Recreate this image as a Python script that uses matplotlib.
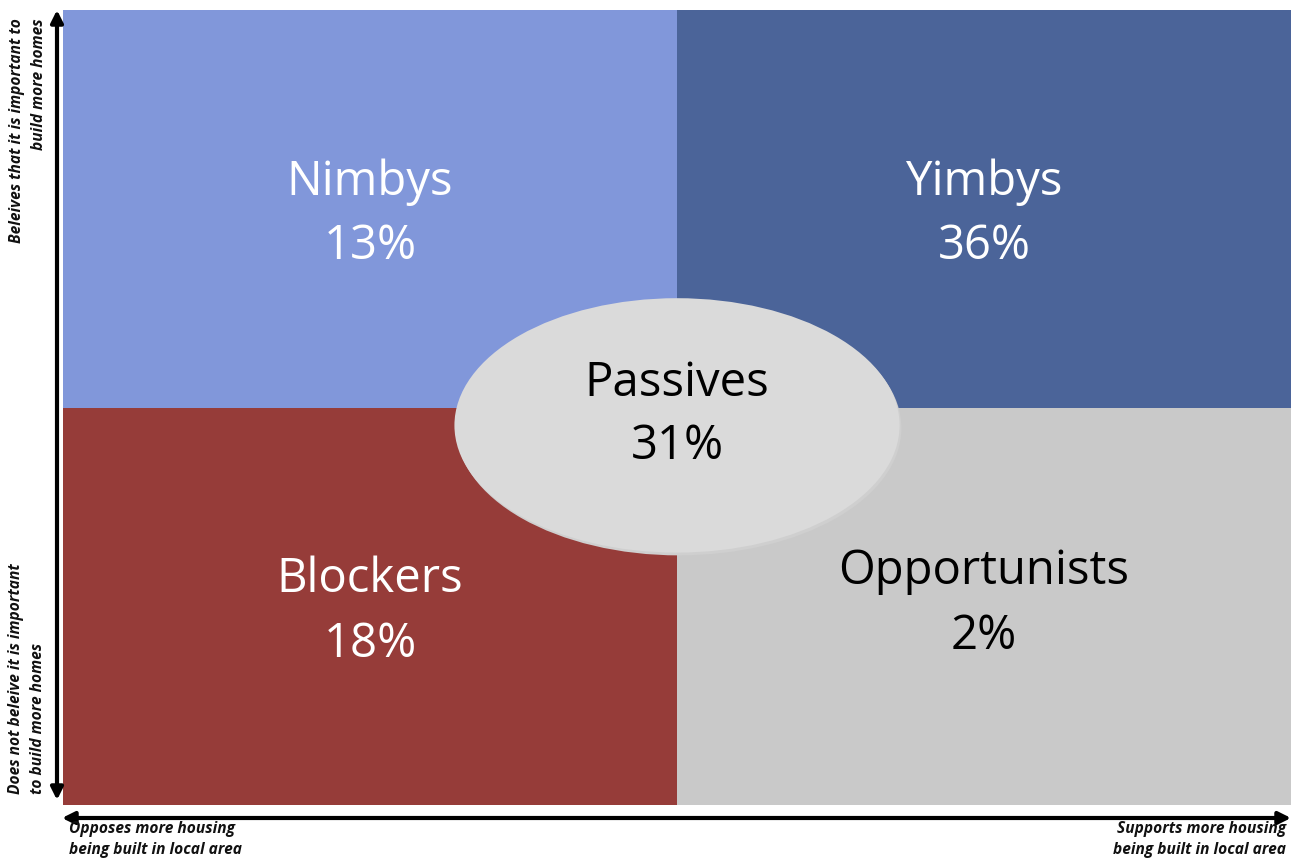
import matplotlib.pyplot as plt
from matplotlib.patches import Rectangle, Ellipse

plt.rcParams['font.family'] = ['Open Sans', 'DejaVu Sans']

# ==========================================
# data
# ==========================================
segments = ['Nimbys', 'Yimbys', 'Blockers', 'Opportunists']
shares = [13, 36, 18, 2]
seg_col = [0, 1, 0, 1]      # 0 = opposes, 1 = supports
seg_row = [1, 1, 0, 0]      # 1 = believes important, 0 = does not
seg_colors = ['#8197DA', '#4B6499', '#963C39', '#C9C9C9']
seg_text = ['white', 'white', 'white', 'black']

centre_name = 'Passives'
centre_share = 31

y_top_label = 'Beleives that it is important to\nbuild more homes'
y_bottom_label = 'Does not beleive it is important\nto build more homes'
x_left_label = 'Opposes more housing\nbeing built in local area'
x_right_label = 'Supports more housing\nbeing built in local area'

# ==========================================
# figure
# ==========================================
W, H = 1291, 861
fig = plt.figure(figsize=(W / 100, H / 100), dpi=100)

# quadrant area
ax = fig.add_axes([63 / W, (H - 805) / H, (1291 - 63) / W, (805 - 10) / H])
ax.set_xlim(0, 2)
ax.set_ylim(0, 2)
ax.axis('off')

for name, share, c, r, col, tc in zip(segments, shares, seg_col, seg_row,
                                      seg_colors, seg_text):
    ax.add_patch(Rectangle((c, r), 1, 1, facecolor=col, edgecolor='none'))
    dy = 0.02 if name == 'Opportunists' else 0.0
    ax.text(c + 0.5, r + 0.567 + dy, name, ha='center', va='center',
            fontsize=34, color=tc)
    ax.text(c + 0.5, r + 0.405 + dy, f'{share}%', ha='center', va='center',
            fontsize=34, color=tc)

# passives ellipse (faint shadow underneath)
ax.add_patch(Ellipse((1.003, 0.948), 0.725, 0.64, facecolor='#CFCFCF',
                     edgecolor='none', zorder=3))
ax.add_patch(Ellipse((1.0, 0.955), 0.725, 0.64, facecolor='#DADADA',
                     edgecolor='none', zorder=4))
ax.text(1.0, 1.062, centre_name, ha='center', va='center', fontsize=34,
        color='black', zorder=5)
ax.text(1.0, 0.902, f'{centre_share}%', ha='center', va='center', fontsize=34,
        color='black', zorder=5)

# overlay for arrows and axis captions, pixel coordinates
ov = fig.add_axes([0, 0, 1, 1])
ov.set_xlim(0, W)
ov.set_ylim(H, 0)
ov.axis('off')
ov.patch.set_alpha(0)

arrow = dict(arrowstyle='<|-|>', color='black', lw=3, mutation_scale=18,
             shrinkA=0, shrinkB=0)
ov.annotate('', xy=(57, 10), xytext=(57, 800), arrowprops=arrow)
ov.annotate('', xy=(62, 818), xytext=(1291, 818), arrowprops=arrow)

cap = dict(fontsize=11.2, fontweight='bold', fontstyle='italic', color='#111111',
           linespacing=1.45)
ov.text(28, 18, y_top_label, rotation=90, ha='center', va='top',
        multialignment='right', **cap)
ov.text(27, 794, y_bottom_label, rotation=90, ha='center', va='bottom',
        multialignment='left', **cap)
ov.text(69, 821, x_left_label, ha='left', va='top', multialignment='left', **cap)
ov.text(1286, 821, x_right_label, ha='right', va='top', multialignment='right', **cap)

fig.savefig('out.png', dpi=100)
